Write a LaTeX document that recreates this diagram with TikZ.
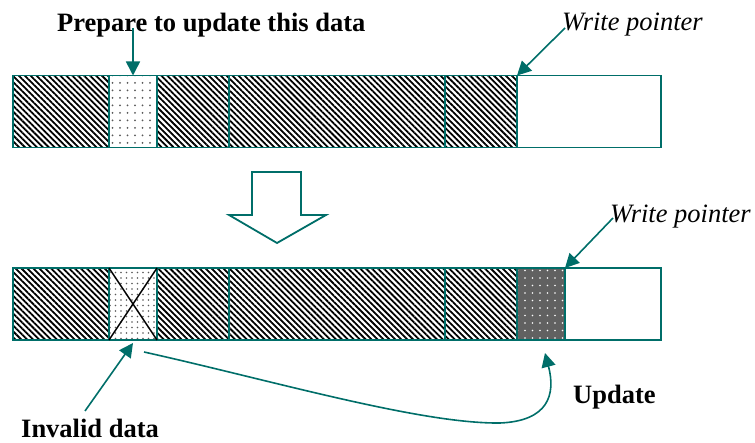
\documentclass[tikz,border=0pt]{standalone}
\usepackage{fontspec}
\setmainfont{Liberation Serif}
\usepackage{tikz}
\usetikzlibrary{positioning,arrows.meta,patterns.meta}
\definecolor{flash}{RGB}{0,110,105}

\begin{document}
\begin{tikzpicture}[x=1pt,y=-1pt,
    cell/.style = {draw=flash, line width=1.8pt, rectangle, inner sep=0pt, outer sep=0pt, minimum height=72pt},
    used/.style = {cell, pattern={Lines[angle=-45,distance=4.2pt,line width=1.8pt]}, pattern color=black},
    old/.style = {cell, pattern={Dots[distance=7.5pt,radius=1pt]}, pattern color=black!65},
    dead/.style = {cell, pattern={Dots[distance=5.5pt,radius=0.9pt]}, pattern color=black!65},
    new/.style = {cell, preaction={fill=black!62}, pattern={Dots[distance=7.5pt,radius=0.8pt]}, pattern color=white},
    label/.style = {inner sep=0pt, anchor=base west, font=\fontsize{26.5}{30}\selectfont},
    ptr/.style = {draw=flash, line width=1.6pt, -{Triangle[length=14pt,width=14pt]}},
    node distance={0pt}]
        \useasboundingbox (0,0) rectangle (755,443);
        % before the update
        \node[used, minimum width=96pt, anchor=north west] (a1) at (13,75.5) {};
        \node[old, minimum width=48pt] (a2) [right=of a1] {};
        \node[used, minimum width=72pt] (a3) [right=of a2] {};
        \node[used, minimum width=216pt] (a4) [right=of a3] {};
        \node[used, minimum width=72pt] (a5) [right=of a4] {};
        \node[cell, minimum width=144pt] (a6) [right=of a5] {};
        % after the update
        \node[used, minimum width=96pt, anchor=north west] (b1) at (13,268) {};
        \node[dead, minimum width=48pt] (b2) [right=of b1] {};
        \node[used, minimum width=72pt] (b3) [right=of b2] {};
        \node[used, minimum width=216pt] (b4) [right=of b3] {};
        \node[used, minimum width=72pt] (b5) [right=of b4] {};
        \node[new, minimum width=48pt] (b6) [right=of b5] {};
        \node[cell, minimum width=96pt] (b7) [right=of b6] {};
        \draw[line width=1.4pt] (b2.north west) -- (b2.south east);
        \draw[line width=1.4pt] (b2.north east) -- (b2.south west);
        % big arrow
        \draw[flash, line width=1.8pt, line join=miter] (252,172) -- (301,172) -- (301,215) -- (326,215)
            -- (277,243) -- (229,215) -- (252,215) -- cycle;
        % labels
        \node[label, font=\bfseries\fontsize{26.5}{30}\selectfont] (prep) at (57,32) {Prepare to update this data};
        \node[label, font=\itshape\fontsize{26.5}{30}\selectfont] (wp1) at (562,31) {Write pointer};
        \node[label, font=\itshape\fontsize{26.5}{30}\selectfont] (wp2) at (610,223) {Write pointer};
        \node[label, font=\bfseries\fontsize{26.5}{30}\selectfont] (inv) at (21,437.5) {Invalid data};
        \node[label, font=\bfseries\fontsize{26.5}{30}\selectfont] (upd) at (573,404) {Update};
        \coordinate (p1) at (133,28);
        \coordinate (w1) at (565,28);
        \coordinate (w2) at (613,218);
        \coordinate (i1) at (85,411);
        \coordinate (u1) at (144,352);
        \coordinate (u2) at (500,423);
        \draw[ptr] (p1) -- (a2.north);
        \draw[ptr] (w1) -- (a6.north west);
        \draw[ptr] (w2) -- (b7.north west);
        \draw[ptr] (i1) -- ([yshift=-3pt]b2.south);
        \draw[ptr] (u1) .. controls (270,380) and (420,424) .. (u2)
            .. controls (548,421) and (556,395) .. ([xshift=4pt,yshift=-13pt]b6.south);
\end{tikzpicture}
\end{document}
